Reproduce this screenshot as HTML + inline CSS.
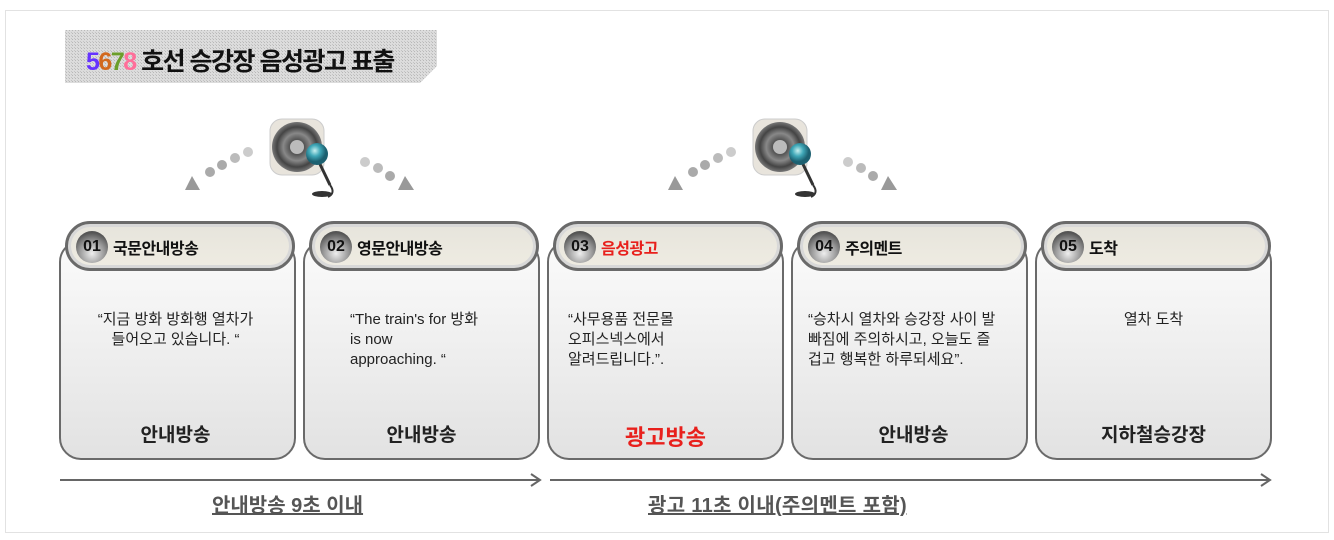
<!DOCTYPE html>
<html><head><meta charset="utf-8"><style>
body{margin:0;background:#fff;}
.wrap{position:relative;width:1334px;height:540px;overflow:hidden;font-family:"Liberation Sans","Noto Sans CJK KR",sans-serif;}
.frame{position:absolute;left:5px;top:10px;width:1322px;height:521px;border:1px solid #e2e2e2;}
.card{position:absolute;top:240px;width:237px;height:220px;border:2px solid #6a6a6a;border-radius:22px;background:linear-gradient(#fbfbfb,#e2e2e2);box-sizing:border-box;}
.pill{position:absolute;top:221px;width:230px;height:50px;border:3px solid #6a6a6a;border-radius:25px;background:linear-gradient(#e6e4dc,#efece2);box-sizing:border-box;box-shadow:inset 0 0 0 3px #d8d8d8;}
.num{position:absolute;left:8px;top:7px;width:32px;height:32px;border-radius:50%;background:radial-gradient(circle at 50% 70%,#eee,#999 45%,#555 75%);font-weight:bold;font-size:16px;line-height:32px;text-align:center;color:#111;}
.pt{position:absolute;left:45px;top:11px;font-size:16px;font-weight:bold;color:#111;letter-spacing:-0.5px;}
.desc{position:absolute;top:310px;font-size:15px;line-height:20px;color:#222;}
.bot{position:absolute;top:420px;width:237px;text-align:center;font-size:19px;font-weight:bold;color:#222;}
.lab{position:absolute;top:489px;font-size:20px;font-weight:bold;color:#555;text-decoration:underline;}
</style></head><body><div class="wrap">
<div class="frame"></div>
<svg style="position:absolute;left:0;top:0" width="1334" height="540">
<defs><pattern id="hp" width="3" height="3" patternUnits="userSpaceOnUse"><rect width="3" height="3" fill="#dcdcdc"/><rect width="1" height="1" fill="#b8b8b8"/><rect x="2" y="2" width="1" height="1" fill="#c4c4c4"/></pattern>
<radialGradient id="ball" cx="40%" cy="35%"><stop offset="0" stop-color="#c8f0f0"/><stop offset="0.5" stop-color="#40a8b8"/><stop offset="1" stop-color="#1c6070"/></radialGradient>
<radialGradient id="spk"><stop offset="0" stop-color="#aaa"/><stop offset="0.3" stop-color="#555"/><stop offset="0.55" stop-color="#888"/><stop offset="0.8" stop-color="#444"/><stop offset="1" stop-color="#777"/></radialGradient>
<g id="icon">
<rect x="270" y="119" width="54" height="56" rx="12" fill="#e8e4dc" stroke="#ccc"/>
<circle cx="297" cy="147" r="25" fill="url(#spk)"/>
<circle cx="297" cy="147" r="7" fill="#bbb"/>
<line x1="318" y1="160" x2="330" y2="185" stroke="#333" stroke-width="3"/>
<path d="M330 185 q6 8 -2 12" stroke="#333" stroke-width="2" fill="none"/>
<ellipse cx="322" cy="194" rx="10" ry="3" fill="#333"/>
<circle cx="317" cy="154" r="11" fill="url(#ball)"/>
<circle cx="248" cy="152" r="5" fill="#ccc"/><circle cx="235" cy="158" r="5" fill="#bbb"/><circle cx="222" cy="165" r="5" fill="#aaa"/><circle cx="210" cy="172" r="5" fill="#aaa"/>
<polygon points="192,176 185,190 200,190" fill="#999"/>
<circle cx="365" cy="162" r="5" fill="#ccc"/><circle cx="378" cy="168" r="5" fill="#bbb"/><circle cx="390" cy="176" r="5" fill="#aaa"/>
<polygon points="405,176 398,190 414,190" fill="#999"/>
</g></defs>
<polygon points="65,30 437,30 437,66 420,83 65,83" fill="url(#hp)"/>
<use href="#icon"/>
<use href="#icon" transform="translate(483,0)"/>
<g stroke="#666" stroke-width="2" fill="none">
<line x1="60" y1="480" x2="540" y2="480"/><path d="M531 474 L540 480 L531 486"/>
<line x1="550" y1="480" x2="1270" y2="480"/><path d="M1261 474 L1270 480 L1261 486"/>
</g>
</svg>
<div style="position:absolute;left:86px;top:42px;font-size:25px;font-weight:bold;letter-spacing:-1.5px;color:#111"><span style="color:#6633ff">5</span><span style="color:#d2691e">6</span><span style="color:#6b9e2a">7</span><span style="color:#ff6f9a">8</span> 호선 승강장 음성광고 표출</div>

<div class="card" style="left:59px"></div><div class="pill" style="left:65px"><div class="num">01</div><div class="pt">국문안내방송</div></div>
<div class="card" style="left:303px"></div><div class="pill" style="left:309px"><div class="num">02</div><div class="pt">영문안내방송</div></div>
<div class="card" style="left:547px"></div><div class="pill" style="left:553px"><div class="num">03</div><div class="pt" style="color:#e8201c">음성광고</div></div>
<div class="card" style="left:791px"></div><div class="pill" style="left:797px"><div class="num">04</div><div class="pt">주의멘트</div></div>
<div class="card" style="left:1035px"></div><div class="pill" style="left:1041px"><div class="num">05</div><div class="pt">도착</div></div>

<div class="desc" style="left:57px;width:237px;text-align:center">“지금 방화 방화행 열차가<br>들어오고 있습니다. “</div>
<div class="desc" style="left:350px">“The train's for 방화<br>is now<br>approaching. “</div>
<div class="desc" style="left:568px">“사무용품 전문몰<br>오피스넥스에서<br>알려드립니다.”.</div>
<div class="desc" style="left:808px">“승차시 열차와 승강장 사이 발<br>빠짐에 주의하시고, 오늘도 즐<br>겁고 행복한 하루되세요”.</div>
<div class="desc" style="left:1035px;width:237px;text-align:center">열차 도착</div>

<div class="bot" style="left:57px">안내방송</div>
<div class="bot" style="left:303px">안내방송</div>
<div class="bot" style="left:547px;color:#e8201c;font-size:22px">광고방송</div>
<div class="bot" style="left:795px">안내방송</div>
<div class="bot" style="left:1035px">지하철승강장</div>

<div class="lab" style="left:212px">안내방송 9초 이내</div>
<div class="lab" style="left:648px;letter-spacing:0.3px">광고 11초 이내(주의멘트 포함)</div>
</div></body></html>
